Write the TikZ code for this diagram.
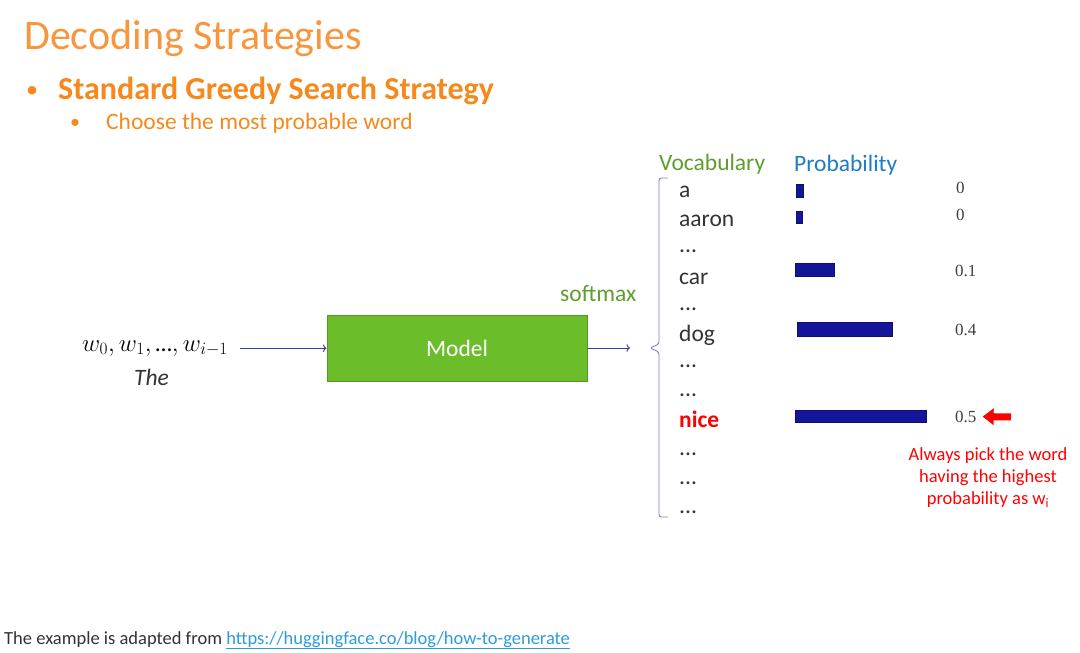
\documentclass[tikz,border=0pt]{standalone}
\usepackage{fontspec}
\setmainfont{Carlito}
\newfontfamily\numfont{Liberation Serif}
\usetikzlibrary{arrows.meta,positioning}
\definecolor{titleorange}{HTML}{F7963C}
\definecolor{boldorange}{HTML}{F5891E}
\definecolor{modelgreen}{HTML}{6BBE2A}
\definecolor{modeledge}{HTML}{54962A}
\definecolor{labelgreen}{HTML}{5E9E2E}
\definecolor{probblue}{HTML}{1F7BC4}
\definecolor{barblue}{HTML}{15159A}
\definecolor{flowblue}{HTML}{3A3AA0}
\definecolor{bracelav}{HTML}{8080C8}
\definecolor{linkblue}{HTML}{2E9BDB}
\newcommand{\bodysize}{\fontsize{23.5}{28}\selectfont}

\begin{document}
\begin{tikzpicture}[x=1pt,y=-1pt,>=To,
  txt/.style={inner sep=0pt,anchor=base west,font=\bodysize,text=black!80},
  num/.style={inner sep=0pt,anchor=base west,font=\numfont\fontsize{17}{20}\selectfont,text=black!75},
  bar/.style={fill=barblue,draw=barblue!70!black,line width=0.6pt},
  flow/.style={->,flowblue,line width=0.9pt}]
  \useasboundingbox[fill=white] (0,0) rectangle (1080,653);

  \node[inner sep=0pt,anchor=base west,font=\fontsize{42}{48}\selectfont,text=titleorange] (title) at (24,49) {Decoding Strategies};
  \node[inner sep=0pt,anchor=base west,font=\fontsize{24}{28}\selectfont,text=boldorange] (dot1) at (26,97) {•};
  \node[inner sep=0pt,anchor=base west,font=\bfseries\fontsize{32}{36}\selectfont,text=boldorange] (head) at (58,99) {Standard Greedy Search Strategy};
  \node[inner sep=0pt,anchor=base west,font=\fontsize{20}{24}\selectfont,text=boldorange] (dot2) at (70,128) {•};
  \node[inner sep=0pt,anchor=base west,font=\bodysize,text=boldorange] (sub) at (106,129) {Choose the most probable word};

  \node[inner sep=0pt,anchor=base west,font=\bodysize] (inp) at (82,351) {$w_0, w_1, \mbox{…}, w_{i-1}$};
  \node[txt,font=\bodysize\itshape] (the) at (134,385) {The};
  \node[draw=modeledge,line width=1pt,fill=modelgreen,minimum width=260pt,minimum height=66pt,
        text=white,font=\bodysize] (model) at (457,348) {Model};
  \draw[flow] (inp.east) ++(12,0) -- (inp.east -| model.west);
  \coordinate (sm) at (630,348);
  \draw[flow] (model.east) -- (sm);
  \node[txt,text=labelgreen] (softmax) at (560,301) {softmax};

  \node[txt,text=labelgreen] (vocab) at (659,170) {Vocabulary};
  \node[txt,text=probblue] (prob) at (794,171) {Probability};
  \draw[bracelav,line width=0.9pt,rounded corners=2.5pt] (668,178) -- (659,178) -- (659,344) -- (650,348)
    -- (659,352) -- (659,517) -- (668,517);

  \node[txt] (wa) at (679,197) {a};
  \node[txt] (waaron) at (679,226) {aaron};
  \node[txt] (d1) at (679,252) {...};
  \node[txt] (wcar) at (679,284) {car};
  \node[txt] (d2) at (679,310) {...};
  \node[txt] (wdog) at (679,341) {dog};
  \node[txt] (d3) at (679,367) {...};
  \node[txt] (d4) at (679,396) {...};
  \node[txt,text=red,font=\bodysize\bfseries] (wnice) at (679,427) {nice};
  \node[txt] (d5) at (679,455) {...};
  \node[txt] (d6) at (679,484) {...};
  \node[txt] (d7) at (679,513) {...};

  \draw[bar] (796,184) rectangle (803,197);
  \draw[bar] (796,211) rectangle (802,223);
  \draw[bar] (795,263) rectangle (834,276);
  \draw[bar] (797,322) rectangle (892,336);
  \draw[bar] (795,410) rectangle (926,422);

  \node[num] (pa) at (956,193) {0};
  \node[num] (paaron) at (956,220) {0};
  \node[num] (pcar) at (955,276) {0.1};
  \node[num] (pdog) at (955,335) {0.4};
  \node[num] (pnice) at (955,422) {0.5};
  \coordinate (pick) at (1011,417);
  \draw[red,line width=7pt,-{Triangle[length=11pt,width=16pt]},shorten >=6pt] (pick) -- (pnice.east);
  \node[inner sep=0pt,anchor=north,align=center,text=red,font=\fontsize{18.5}{22}\selectfont] (note) at (988,447)
    {Always pick the word\\having the highest\\probability as $\mathrm{w}_{\mathrm{i}}$};

  \node[inner sep=0pt,anchor=base west,font=\fontsize{18.5}{22}\selectfont,text=black!80] (foot) at (4,644)
    {The example is adapted from \textcolor{linkblue}{\underline{https://huggingface.co/blog/how-to-generate}}};
\end{tikzpicture}
\end{document}
